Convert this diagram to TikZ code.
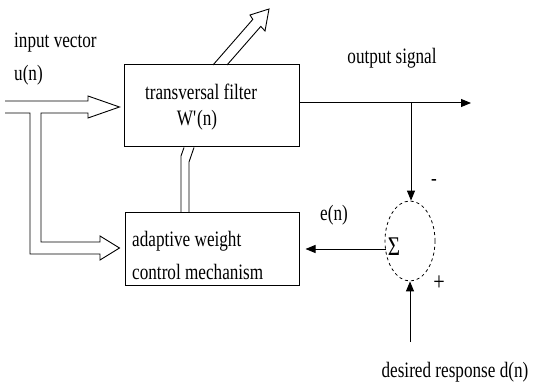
\documentclass[tikz,border=0pt]{standalone}
\usepackage{fontspec}
\setmainfont{Liberation Serif}
\newfontfamily\tallserif[FakeStretch=0.78]{Liberation Serif}
\usetikzlibrary{arrows.meta,shapes.geometric,calc}
\tikzset{
  lbl/.style={font=\tallserif\fontsize{22}{26}\selectfont, inner sep=0pt},
  blk/.style={draw, line width=1pt, inner sep=0pt},
  pipe/.style={draw, line width=0.9pt, line join=miter},
  arr/.style={draw, line width=1pt, -{Triangle[length=10pt,width=8pt]}}
}
\begin{document}
\begin{tikzpicture}[x=1pt,y=-1pt]
\useasboundingbox[fill=white] (0,0) rectangle (536,385);
% blocks
\node[blk, minimum width=175pt, minimum height=82pt] (filter) at (211.5,106) {};
\node[blk, minimum width=174pt, minimum height=72pt] (adapt) at (212,249) {};
\node[draw, dashed, ellipse, line width=0.8pt, minimum width=50pt, minimum height=80pt, inner sep=0pt] (sum) at (410,241) {};
% texts
\node[lbl, anchor=west] (tin1) at (14,43) {input vector};
\node[lbl, anchor=west] (tin2) at (14,75) {u(n)};
\node[lbl] (tf1) at (201,92) {transversal filter};
\node[lbl] (tf2) at (197,120) {W\textquotesingle(n)};
\node[lbl, anchor=west] (ta1) at (132,241) {adaptive weight};
\node[lbl, anchor=west] (ta2) at (132,272) {control mechanism};
\node[lbl] (tout) at (392,58) {output signal};
\node[lbl] (ten) at (334,215) {e(n)};
\node[lbl, font=\tallserif\fontsize{27}{30}\selectfont] (tsig) at (394,247) {Σ};
\node[lbl] (tminus) at (434,182) {-};
\node[lbl, font=\tallserif\fontsize{26}{30}\selectfont] (tplus) at (439,283) {+};
\node[lbl] (tdes) at (455,372) {desired response d(n)};
% input pipe (branching double arrow)
\draw[pipe] (5,101) -- (88,101) -- (88,96) -- ($(filter.west)+(-4,1)$) -- (88,118) -- (88,113)
  -- (41,113) -- (41,242) -- (100,242) -- (100,236) -- ($(adapt.west)+(-5,-1)$) -- (100,260)
  -- (100,254) -- (30,254) -- (30,113) -- (5,113);
% output pipe from filter (diagonal double arrow)
\draw[pipe] (213,65) -- (252.8,19.4) -- (250,15) -- (269,9) -- (265,31) -- (260.8,26.4) -- (227,65);
% feedback pipe from adaptive block to filter
\draw[pipe] (adapt.north -| 181,0) -- (181,156) -- (filter.south -| 184,0);
\draw[pipe] (adapt.north -| 189,0) -- (189,162) -- (filter.south -| 194,0);
% output signal
\coordinate (fo) at ($(filter.east)+(0,-3)$);
\coordinate (oend) at (471,103);
\coordinate (br) at (411,103);
\draw[arr] (fo) -- (oend);
\draw[arr] (br) -- (br |- sum.north);
% error to adaptive block
\coordinate (es) at (385.5,249);
\draw[arr] (es) -- ($(adapt.east)+(6,0)$);
% desired response
\coordinate (ds) at (410,342);
\draw[arr] (ds) -- (sum.south);
\end{tikzpicture}
\end{document}
